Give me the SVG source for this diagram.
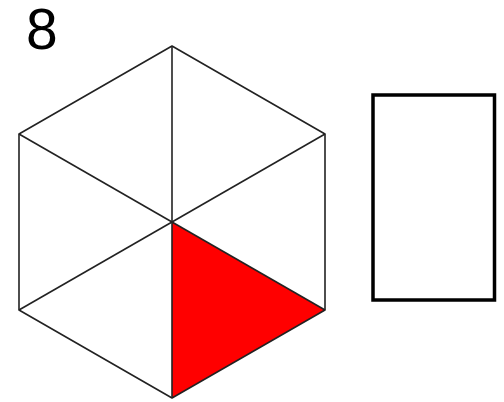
<svg xmlns="http://www.w3.org/2000/svg" width="504" height="402" viewBox="0 0 504 402">
<style>
.e{stroke:#222;stroke-width:1.6;fill:none;stroke-linejoin:round}
.t{font-family:"Liberation Sans",Arial,sans-serif;font-size:57px;fill:#000}
</style>
<rect width="504" height="402" fill="#fff"/>
<text class="t" x="26" y="49">8</text>
<g id="hexagon">
<polygon points="172,222 325,310 172,398" fill="#ff0000"/>
<polygon class="e" points="172,46 325,134 325,310 172,398 19,310 19,134"/>
</g>
<g id="connectors">
<line class="e" x1="172" y1="46" x2="172" y2="398"/>
<line class="e" x1="19" y1="134" x2="325" y2="310"/>
<line class="e" x1="19" y1="310" x2="325" y2="134"/>
</g>
<g id="box">
<rect x="373" y="95" width="121.5" height="205" fill="#fff" stroke="#000" stroke-width="3.5"/>
</g>
</svg>
